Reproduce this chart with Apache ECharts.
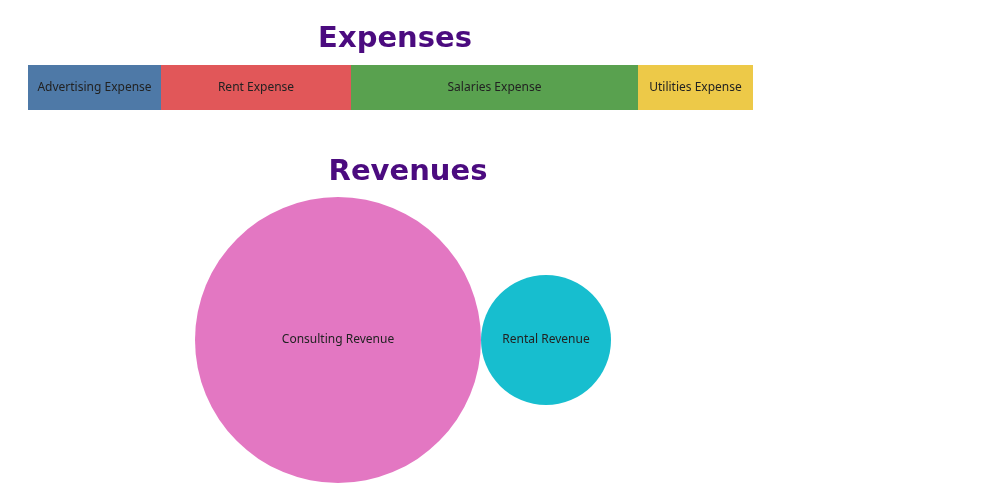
<!DOCTYPE html>
<html>
<head>
<meta charset="utf-8">
<script src="https://cdn.jsdelivr.net/npm/echarts@6/dist/echarts.min.js"></script>
<style>html,body{margin:0;padding:0;background:#fff}#main{width:991px;height:489px}</style>
</head>
<body>
<div id="main"></div>
<script>
var expenseNames = ['Advertising Expense', 'Rent Expense', 'Salaries Expense', 'Utilities Expense'];
var expenseValues = [133, 190, 287, 115];
var expenseColors = ['#4e79a7', '#e15759', '#59a14f', '#edc948'];
var revenueNames = ['Consulting Revenue', 'Rental Revenue'];
var revenueValues = [81800, 16900];
var revenueColors = ['#e377c2', '#17becf'];

var chart = echarts.init(document.getElementById('main'));
var total = expenseValues.reduce(function (a, b) { return a + b; }, 0);

// bubble layout: circles side by side, diameter = sqrt(value)
var sizes = revenueValues.map(function (v) { return Math.sqrt(v); });
var startX = 195, cy = 340, xs = [], cur = startX;
sizes.forEach(function (s) { xs.push(cur + s / 2); cur += s; });

var barSeries = expenseNames.map(function (n, i) {
    return {
        name: n, type: 'bar', stack: 'e', xAxisIndex: 0, yAxisIndex: 0,
        data: [expenseValues[i]], barWidth: 45,
        itemStyle: { color: expenseColors[i] },
        label: { show: true, position: 'inside', formatter: n, color: '#222', fontSize: 12, fontFamily: 'Noto Sans' }
    };
});

var option = {
    animation: false,
    title: [
        { text: 'Expenses', left: 390, top: 20, textAlign: 'center',
          textStyle: { color: '#4b0b7f', fontSize: 29, fontWeight: 'bold', fontFamily: 'DejaVu Sans' } },
        { text: 'Revenues', left: 403, top: 153, textAlign: 'center',
          textStyle: { color: '#4b0b7f', fontSize: 29, fontWeight: 'bold', fontFamily: 'DejaVu Sans' } }
    ],
    grid: [
        { left: 28, width: 725, top: 65, height: 45 },
        { left: 0, right: 0, top: 0, bottom: 0 }
    ],
    xAxis: [
        { type: 'value', gridIndex: 0, min: 0, max: total, show: false },
        { type: 'value', gridIndex: 1, min: 0, max: 991, show: false }
    ],
    yAxis: [
        { type: 'category', gridIndex: 0, data: ['Expenses'], show: false },
        { type: 'value', gridIndex: 1, min: 0, max: 489, inverse: true, show: false }
    ],
    series: barSeries.concat([{
        type: 'scatter', xAxisIndex: 1, yAxisIndex: 1,
        data: revenueNames.map(function (n, i) {
            return { name: n, value: [xs[i], cy], symbolSize: sizes[i], itemStyle: { color: revenueColors[i], opacity: 1 } };
        }),
        label: { show: true, position: 'inside', formatter: '{b}', color: '#222', fontSize: 12, fontFamily: 'Noto Sans' }
    }])
};
chart.setOption(option);
window.addEventListener('resize', function () { chart.resize(); });
</script>
</body>
</html>
